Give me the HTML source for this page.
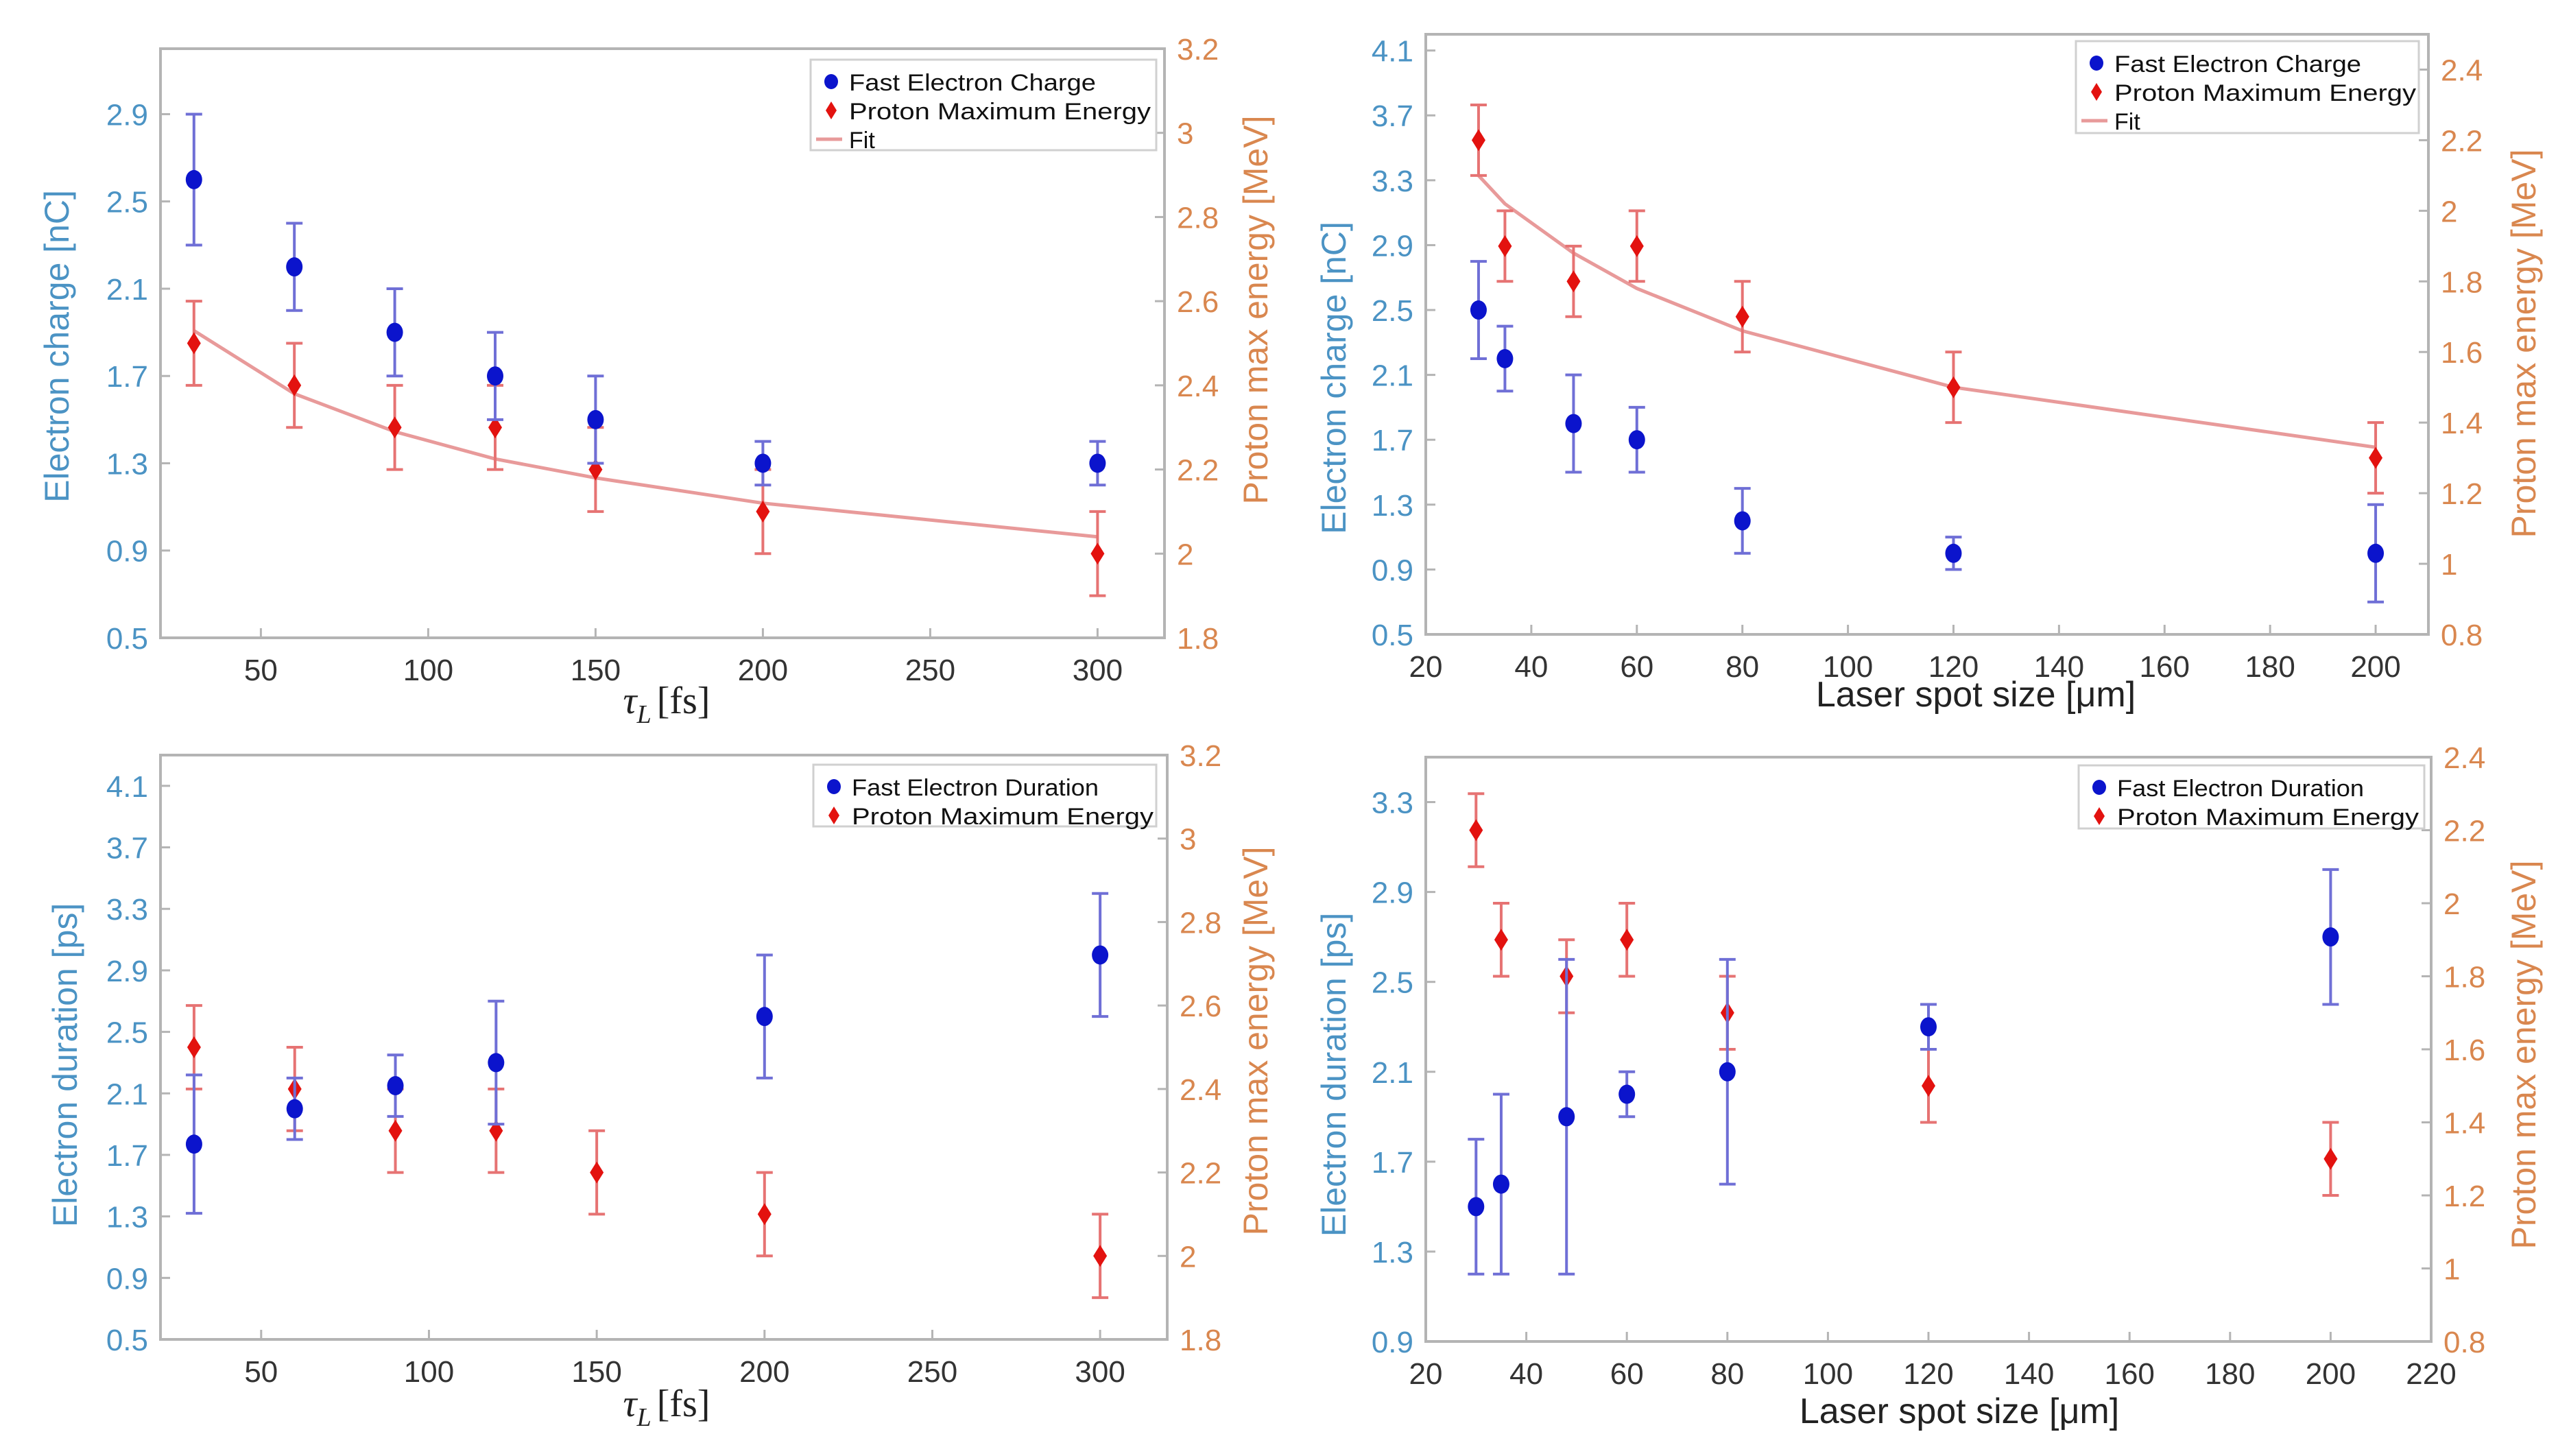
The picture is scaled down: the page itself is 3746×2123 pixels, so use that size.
<!DOCTYPE html>
<html><head><meta charset="utf-8">
<style>
html,body{margin:0;padding:0;background:#fff;}
svg{display:block;font-family:"Liberation Sans",sans-serif;}
</style></head>
<body>
<svg id="chart" xmlns="http://www.w3.org/2000/svg" width="3746" height="2123" viewBox="0 0 3746 2123"></svg>
<script>
// ---- data: panel A (pulse duration vs charge) ----
const aX = [30, 60, 90, 120, 150, 200, 300];
const aElec = [2.6, 2.2, 1.9, 1.7, 1.5, 1.3, 1.3];
const aElecErr = [0.3, 0.2, 0.2, 0.2, 0.2, 0.1, 0.1];
const aProt = [2.5, 2.4, 2.3, 2.3, 2.2, 2.1, 2.0];
const aProtErr = [0.1, 0.1, 0.1, 0.1, 0.1, 0.1, 0.1];
const aFit = [2.53, 2.38, 2.29, 2.225, 2.18, 2.12, 2.04];
// ---- panel B (spot size vs charge) ----
const bX = [30, 35, 48, 60, 80, 120, 200];
const bElec = [2.5, 2.2, 1.8, 1.7, 1.2, 1.0, 1.0];
const bElecErr = [0.3, 0.2, 0.3, 0.2, 0.2, 0.1, 0.3];
const bProt = [2.2, 1.9, 1.8, 1.9, 1.7, 1.5, 1.3];
const bProtErr = [0.1, 0.1, 0.1, 0.1, 0.1, 0.1, 0.1];
const bFit = [2.1, 2.02, 1.88, 1.78, 1.66, 1.5, 1.33];
// ---- panel C (pulse duration vs duration) ----
const cElecX = [30, 60, 90, 120, 200, 300];
const cElec = [1.77, 2.0, 2.15, 2.3, 2.6, 3.0];
const cElecErr = [0.45, 0.2, 0.2, 0.4, 0.4, 0.4];
const cProtX = [30, 60, 90, 120, 150, 200, 300];
const cProt = [2.5, 2.4, 2.3, 2.3, 2.2, 2.1, 2.0];
const cProtErr = [0.1, 0.1, 0.1, 0.1, 0.1, 0.1, 0.1];
// ---- panel D (spot size vs duration) ----
const dX = [30, 35, 48, 60, 80, 120, 200];
const dElec = [1.5, 1.6, 1.9, 2.0, 2.1, 2.3, 2.7];
const dElecErr = [0.3, 0.4, 0.7, 0.1, 0.5, 0.1, 0.3];
const dProt = [2.2, 1.9, 1.8, 1.9, 1.7, 1.5, 1.3];
const dProtErr = [0.1, 0.1, 0.1, 0.1, 0.1, 0.1, 0.1];
// ---- ticks ----
const tauTicks = [50, 100, 150, 200, 250, 300];
const spotTicksB = [20, 40, 60, 80, 100, 120, 140, 160, 180, 200];
const spotTicksD = [20, 40, 60, 80, 100, 120, 140, 160, 180, 200, 220];
const chargeTicks = ["0.5", "0.9", "1.3", "1.7", "2.1", "2.5", "2.9"];
const chargeTicksB = ["0.5", "0.9", "1.3", "1.7", "2.1", "2.5", "2.9", "3.3", "3.7", "4.1"];
const durTicksC = ["0.5", "0.9", "1.3", "1.7", "2.1", "2.5", "2.9", "3.3", "3.7", "4.1"];
const durTicksD = ["0.9", "1.3", "1.7", "2.1", "2.5", "2.9", "3.3"];
const energyTicksA = ["1.8", "2", "2.2", "2.4", "2.6", "2.8", "3", "3.2"];
const energyTicksB = ["0.8", "1", "1.2", "1.4", "1.6", "1.8", "2", "2.2", "2.4"];

const NS = "http://www.w3.org/2000/svg";
const svg = document.getElementById("chart");
function mk(tag, attrs, parent, text) {
  const e = document.createElementNS(NS, tag);
  for (const k in attrs) e.setAttribute(k, attrs[k]);
  if (text !== undefined) e.textContent = text;
  (parent || svg).appendChild(e);
  return e;
}
const BLUE = "#0b14cc", BLUEERR = "#6f6fd6", RED = "#e3120f", REDERR = "#e67373", FIT = "#e89a9a";
const LBLUE = "#4b93c4", ORANGE = "#d9874f";

function panel(p) {
  const g = mk("g", {});
  
  
  const sx = v => p.L + (v - p.xmin) / (p.xmax - p.xmin) * (p.R - p.L);
  const syL = v => p.B - (v - p.ylmin) / (p.ylmax - p.ylmin) * (p.B - p.T);
  const syR = v => p.B - (v - p.yrmin) / (p.yrmax - p.yrmin) * (p.B - p.T);
  const fr = mk("rect", {x: p.L, y: p.T, width: p.R - p.L, height: p.B - p.T, fill: "none", stroke: "#b4b4b4", "stroke-width": 4}, g);
  
  
  p.xticks.forEach(t => {
    const x = sx(t);
    mk("line", {x1: x, x2: x, y1: p.B, y2: p.B - 14, stroke: "#b4b4b4", "stroke-width": 3}, g);
    const tx = mk("text", {x: x, y: p.B + 62, "text-anchor": "middle", "font-size": 44, fill: "#333"}, g, String(t));
    
    
  });
  p.lticks.forEach(t => {
    const y = syL(parseFloat(t));
    mk("line", {x1: p.L, x2: p.L + 14, y1: y, y2: y, stroke: "#b4b4b4", "stroke-width": 3}, g);
    const tx = mk("text", {x: p.L - 18, y: y + 16, "text-anchor": "end", "font-size": 44, fill: LBLUE}, g, t);
    
    
  });
  p.rticks.forEach(t => {
    const y = syR(parseFloat(t));
    mk("line", {x1: p.R, x2: p.R - 14, y1: y, y2: y, stroke: "#b4b4b4", "stroke-width": 3}, g);
    const tx = mk("text", {x: p.R + 18, y: y + 16, "text-anchor": "start", "font-size": 44, fill: ORANGE}, g, t);
    
    
  });
  if (p.fit) {
    const d = p.px.map((x, i) => (i ? "L" : "M") + sx(x).toFixed(1) + "," + syR(p.fit[i]).toFixed(1)).join(" ");
    const fl = mk("path", {d: d, fill: "none", stroke: FIT, "stroke-width": 5}, g);
    
    
  }
  function series(xs, ys, es, sy, col, ecol, shape, nm) {
    xs.forEach((x, i) => {
      const cx = sx(x), cy = sy(ys[i]), y1 = sy(ys[i] + es[i]), y2 = sy(ys[i] - es[i]);
      const eb = mk("path", {d: `M${cx},${y1} L${cx},${y2} M${cx-12},${y1} L${cx+12},${y1} M${cx-12},${y2} L${cx+12},${y2}`, stroke: ecol, "stroke-width": 4, fill: "none"}, g);
      
      
      let m;
      if (shape === "circle") m = mk("ellipse", {cx: cx, cy: cy, rx: 12, ry: 14, fill: col}, g);
      else m = mk("path", {d: `M${cx},${cy-16} L${cx+10},${cy} L${cx},${cy+16} L${cx-10},${cy} Z`, fill: col}, g);
      
      
    });
  }
  series(p.px, p.prot, p.protErr, syR, RED, REDERR, "diamond", "proton-energy");
  series(p.ex, p.elec, p.elecErr, syL, BLUE, BLUEERR, "circle", "electron");
  const lg = mk("g", {}, g);
  
  
  mk("rect", {x: p.lx, y: p.ly, width: p.lw, height: p.lh, fill: "#fff", stroke: "#d0d0d0", "stroke-width": 3}, lg);
  const rows = [[p.elecLabel, "circle"], ["Proton Maximum Energy", "diamond"]];
  if (p.fit) rows.push(["Fit", "line"]);
  rows.forEach((r, i) => {
    const yy = p.ly + 32 + i * 42;
    const mx = p.lx + 30;
    if (r[1] === "circle") mk("ellipse", {cx: mx, cy: yy, rx: 10, ry: 11, fill: BLUE}, lg);
    else if (r[1] === "diamond") mk("path", {d: `M${mx},${yy-13} L${mx+8},${yy} L${mx},${yy+13} L${mx-8},${yy} Z`, fill: RED}, lg);
    else mk("line", {x1: mx - 22, x2: mx + 16, y1: yy, y2: yy, stroke: FIT, "stroke-width": 5}, lg);
    const t = mk("text", {x: mx + 26, y: yy + 13, "font-size": 34, fill: "#111"}, lg, r[0]);
    if (r[0] !== "Fit") {
      t.setAttribute("textLength", r[0] === "Proton Maximum Energy" ? 440 : 360);
      t.setAttribute("lengthAdjust", "spacingAndGlyphs");
    }
    
    
  });
  const yt = mk("text", {x: 0, y: 0, transform: `translate(${p.ltx},${p.lty}) rotate(-90)`, "text-anchor": "middle", "font-size": 50, fill: LBLUE}, g, p.ltitle);
  
  
  const rt = mk("text", {x: 0, y: 0, transform: `translate(${p.rtx},${p.rty}) rotate(-90)`, "text-anchor": "middle", "font-size": 50, fill: ORANGE}, g, "Proton max energy [MeV]");
  
  
  let xt;
  if (p.tau) {
    xt = mk("text", {x: p.xtx, y: p.xty, "text-anchor": "middle", "font-size": 56, fill: "#222", "font-family": "Liberation Serif, serif"}, g);
    mk("tspan", {"font-style": "italic"}, xt, "τ");
    mk("tspan", {"font-style": "italic", "font-size": 38, dy: 14}, xt, "L");
    mk("tspan", {dy: -14, dx: 8}, xt, "[fs]");
  } else {
    xt = mk("text", {x: p.xtx, y: p.xty, "text-anchor": "middle", "font-size": 52, fill: "#222"}, g, "Laser spot size [μm]");
  }
  
  
}

panel({name: "panel-charge-vs-duration", L: 234, R: 1698, T: 71, B: 930, xmin: 20, xmax: 320, ylmin: 0.5, ylmax: 3.2, yrmin: 1.8, yrmax: 3.2,
  xticks: tauTicks, lticks: chargeTicks, rticks: energyTicksA, ex: aX, elec: aElec, elecErr: aElecErr, px: aX, prot: aProt, protErr: aProtErr, fit: aFit,
  lx: 1182, ly: 87, lw: 504, lh: 132, elecLabel: "Fast Electron Charge", ltitle: "Electron charge [nC]", ltx: 100, lty: 505, rtx: 1848, rty: 452, tau: true, xtx: 972, xty: 1040});
panel({name: "panel-charge-vs-spot", L: 2079, R: 3541, T: 50, B: 925, xmin: 20, xmax: 210, ylmin: 0.5, ylmax: 4.2, yrmin: 0.8, yrmax: 2.5,
  xticks: spotTicksB, lticks: chargeTicksB, rticks: energyTicksB, ex: bX, elec: bElec, elecErr: bElecErr, px: bX, prot: bProt, protErr: bProtErr, fit: bFit,
  lx: 3027, ly: 60, lw: 500, lh: 134, elecLabel: "Fast Electron Charge", ltitle: "Electron charge [nC]", ltx: 1962, lty: 551, rtx: 3697, rty: 501, tau: false, xtx: 2881, xty: 1030});
panel({name: "panel-duration-vs-duration", L: 234, R: 1702, T: 1101, B: 1953, xmin: 20, xmax: 320, ylmin: 0.5, ylmax: 4.3, yrmin: 1.8, yrmax: 3.2,
  xticks: tauTicks, lticks: durTicksC, rticks: energyTicksA, ex: cElecX, elec: cElec, elecErr: cElecErr, px: cProtX, prot: cProt, protErr: cProtErr, fit: null,
  lx: 1186, ly: 1115, lw: 500, lh: 90, elecLabel: "Fast Electron Duration", ltitle: "Electron duration [ps]", ltx: 112, lty: 1553, rtx: 1848, rty: 1518, tau: true, xtx: 972, xty: 2065});
panel({name: "panel-duration-vs-spot", L: 2079, R: 3545, T: 1104, B: 1956, xmin: 20, xmax: 220, ylmin: 0.9, ylmax: 3.5, yrmin: 0.8, yrmax: 2.4,
  xticks: spotTicksD, lticks: durTicksD, rticks: energyTicksB, ex: dX, elec: dElec, elecErr: dElecErr, px: dX, prot: dProt, protErr: dProtErr, fit: null,
  lx: 3031, ly: 1116, lw: 504, lh: 92, elecLabel: "Fast Electron Duration", ltitle: "Electron duration [ps]", ltx: 1962, lty: 1567, rtx: 3697, rty: 1538, tau: false, xtx: 2857, xty: 2075});
</script>
</body></html>
